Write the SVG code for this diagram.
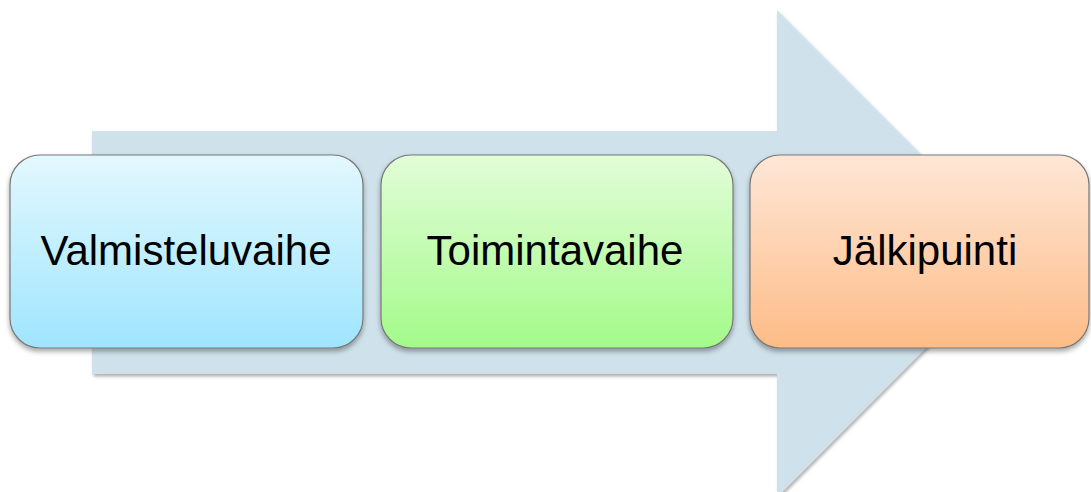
<svg xmlns="http://www.w3.org/2000/svg" width="1091" height="492" viewBox="0 0 1091 492">
  <defs>
    <linearGradient id="gBlue" x1="0" y1="0" x2="0" y2="1">
      <stop offset="0" stop-color="#e3f8fe"/>
      <stop offset="1" stop-color="#9fe5fd"/>
    </linearGradient>
    <linearGradient id="gGreen" x1="0" y1="0" x2="0" y2="1">
      <stop offset="0" stop-color="#e2fdd8"/>
      <stop offset="1" stop-color="#a3fa8a"/>
    </linearGradient>
    <linearGradient id="gOrange" x1="0" y1="0" x2="0" y2="1">
      <stop offset="0" stop-color="#fee7d7"/>
      <stop offset="1" stop-color="#fdbc87"/>
    </linearGradient>
    <filter id="arrowShadow" x="-5%" y="-5%" width="110%" height="110%">
      <feDropShadow dx="1.5" dy="2.5" stdDeviation="1.5" flood-color="#000" flood-opacity="0.3"/>
    </filter>
    <filter id="boxShadow" x="-5%" y="-5%" width="110%" height="115%">
      <feDropShadow dx="0" dy="3" stdDeviation="2.5" flood-color="#000" flood-opacity="0.35"/>
    </filter>
  </defs>
  <style>
    .box { stroke: #777777; stroke-width: 1.2; filter: url(#boxShadow); }
    .label { font-family: "Liberation Sans", Arial, sans-serif; font-size: 42px; fill: #000; text-anchor: middle; }
  </style>

  <!-- background process arrow -->
  <g id="connectors">
    <polygon points="92,131 777,131 777,10 1020,253.5 777,497 777,374 92,374" fill="#cfe1ea" filter="url(#arrowShadow)"/>
  </g>

  <g id="valmisteluvaihe">
    <rect class="box" x="10" y="155" width="353" height="193" rx="30" ry="30" fill="url(#gBlue)"/>
    <text class="label" x="186" y="265">Valmisteluvaihe</text>
  </g>

  <g id="toimintavaihe">
    <rect class="box" x="381" y="155" width="352" height="193" rx="30" ry="30" fill="url(#gGreen)"/>
    <text class="label" x="555" y="265">Toimintavaihe</text>
  </g>

  <g id="jalkipuinti">
    <rect class="box" x="750" y="155" width="339" height="193" rx="30" ry="30" fill="url(#gOrange)"/>
    <text class="label" x="925" y="265">Jälkipuinti</text>
  </g>
</svg>
